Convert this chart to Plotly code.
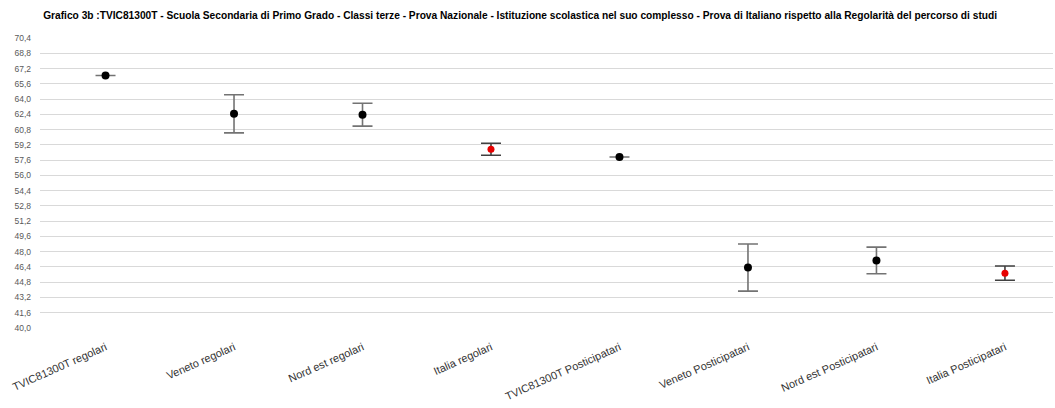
import plotly.graph_objects as go

categories = ["TVIC81300T regolari", "Veneto regolari", "Nord est regolari", "Italia regolari",
              "TVIC81300T Posticipatari", "Veneto Posticipatari", "Nord est Posticipatari", "Italia Posticipatari"]
means = [66.47, 62.45, 62.36, 58.74, 57.93, 46.34, 47.08, 45.75]
errors = [0.0, 2.0, 1.2, 0.63, 0.0, 2.47, 1.4, 0.75]
is_italy = [False, False, False, True, False, False, False, True]
tick_vals = [40.0 + 1.6 * i for i in range(20)]

title = ("Grafico 3b :TVIC81300T - Scuola Secondaria di Primo Grado - Classi terze - Prova Nazionale - "
         "Istituzione scolastica nel suo complesso - Prova di Italiano rispetto alla Regolarità del percorso di studi")

fig = go.Figure()

x_o = [i for i, it in enumerate(is_italy) if not it]
x_i = [i for i, it in enumerate(is_italy) if it]

fig.add_trace(go.Scatter(
    x=x_o, y=[means[i] for i in x_o], mode="markers",
    marker=dict(color="black", size=8),
    error_y=dict(type="data", array=[errors[i] for i in x_o], visible=True,
                 color="#737373", thickness=1.6, width=10),
    showlegend=False))
fig.add_trace(go.Scatter(
    x=x_i, y=[means[i] for i in x_i], mode="markers",
    marker=dict(color="#e60000", size=7),
    error_y=dict(type="data", array=[errors[i] for i in x_i], visible=True,
                 color="#404040", thickness=1.6, width=10),
    showlegend=False))

fig.update_layout(
    width=1055, height=408,
    margin=dict(l=40, r=2, t=38, b=80),
    paper_bgcolor="white", plot_bgcolor="white",
    separators=",.",
    font=dict(family="Liberation Sans, Arial, sans-serif"),
    title=dict(text="<b>" + title + "</b>", x=0.493, xanchor="center", y=0.963, yanchor="middle",
               font=dict(size=10.2, color="black")),
    xaxis=dict(tickmode="array", tickvals=list(range(len(categories))), ticktext=categories,
               range=[-0.51, 7.374], showgrid=False, zeroline=False, showline=False,
               tickangle=-24, tickfont=dict(size=11, color="#333333"), ticks="",
               ticklabelstandoff=10),
    yaxis=dict(range=[40.0, 70.4], tickmode="array", tickvals=tick_vals,
               tickformat=".1f", showgrid=True, gridcolor="#d9d9d9", gridwidth=1,
               zeroline=False, showline=False, tickfont=dict(size=8.5, color="#595959"),
               ticks="", ticklabelstandoff=8),
)

fig.write_html("out.html", config={"displayModeBar": False},
               post_script="document.body.style.margin='0';")
